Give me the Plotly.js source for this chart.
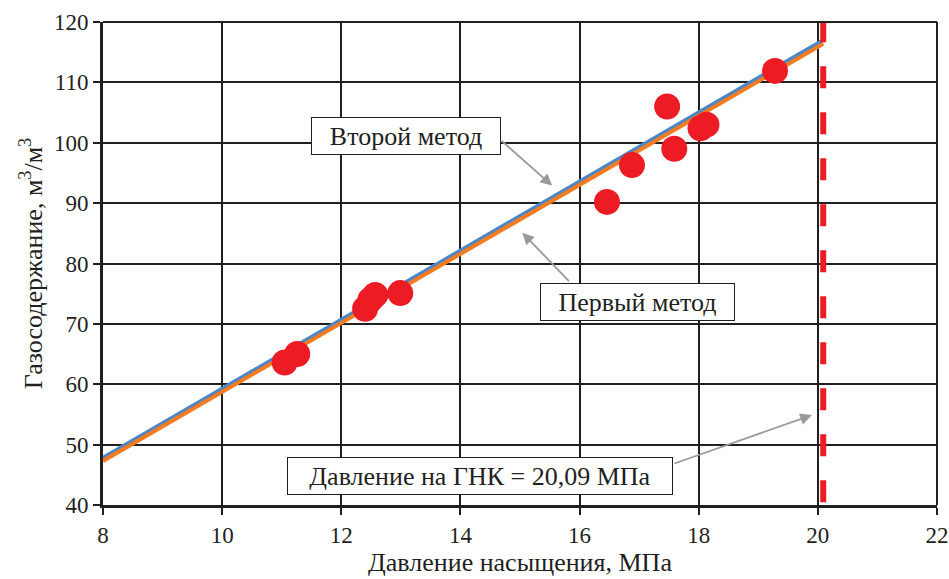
<!DOCTYPE html>
<html>
<head>
<meta charset="utf-8">
<script src="https://cdn.plot.ly/plotly-3.0.1.min.js"></script>
<style>html,body{margin:0;padding:0;background:#fff;}#chart{width:949px;height:579px;}</style>
</head>
<body>
<div id="chart"></div>
<script>
// Measured points: saturation pressure (MPa) vs gas content (m3/m3)
const pressure = [11.05, 11.26, 12.40, 12.49, 12.57, 12.99, 16.46, 16.88, 17.47, 17.59, 18.03, 18.13, 19.28];
const gasContent = [63.6, 65.0, 72.5, 74.0, 74.8, 75.1, 90.2, 96.3, 106.0, 99.0, 102.4, 103.0, 111.9];

// Trend lines of the two methods
const lineX = [8, 20.09];
const secondMethodY = [47.8, 117.0];
const firstMethodY = [47.3, 116.4];

// GOC pressure
const gocPressure = 20.09;

const xTicks = [8, 10, 12, 14, 16, 18, 20, 22];
const yTicks = [40, 50, 60, 70, 80, 90, 100, 110, 120];

const labels = {
  second: 'Второй метод',
  first: 'Первый метод',
  goc: 'Давление на ГНК = 20,09 МПа',
  xTitle: 'Давление насыщения, МПа',
  yTitle: 'Газосодержание, м<sup>3</sup>/м<sup>3</sup>'
};

const FAMILY = 'Liberation Serif';
const INK = '#231F20';

const traces = [
  {x: lineX, y: secondMethodY, mode: 'lines', line: {color: '#4A86C8', width: 4}},
  {x: lineX, y: firstMethodY, mode: 'lines', line: {color: '#F47B20', width: 4}},
  {x: pressure, y: gasContent, mode: 'markers', marker: {color: '#ED1C24', size: 26}},
  {x: [gocPressure, gocPressure], y: [120.3, 40], mode: 'lines', cliponaxis: false,
   line: {color: '#ED1C24', width: 6, dash: '22px,24px'}, hoverinfo: 'skip'}
];

// text boxes centred at (xc, yc)
const box = (text, xc, yc, w) => ({
  text: text, x: xc, y: yc, xref: 'x', yref: 'y', showarrow: false,
  xanchor: 'center', yanchor: 'middle', width: w, height: 28,
  bordercolor: INK, borderwidth: 1, borderpad: 4, bgcolor: '#fff',
  font: {family: FAMILY, size: 26, color: INK}
});
// arrows only (no text): head at (x,y), tail offset (ax, ay) in px
const arrow = (x, y, ax, ay) => ({
  text: '', x: x, y: y, xref: 'x', yref: 'y', ax: ax, ay: ay,
  showarrow: true, arrowhead: 2, arrowsize: 1.3, arrowwidth: 1.8, arrowcolor: '#9A9A9A'
});

const layout = {
  width: 949, height: 579,
  margin: {l: 103, r: 12, t: 22, b: 74},
  paper_bgcolor: '#fff', plot_bgcolor: '#fff',
  showlegend: false,
  font: {family: FAMILY, color: INK, size: 23},
  xaxis: {
    range: [8, 22], tickvals: xTicks, ticktext: xTicks.map(String),
    showgrid: true, gridcolor: INK, gridwidth: 2,
    showline: true, linecolor: INK, linewidth: 3, mirror: false,
    ticks: 'outside', ticklen: 7, tickwidth: 2, tickcolor: INK,
    zeroline: false, tickfont: {family: FAMILY, size: 23, color: INK},
    title: {text: labels.xTitle, font: {family: FAMILY, size: 26, color: INK}, standoff: 4}
  },
  yaxis: {
    range: [40, 120], tickvals: yTicks, ticktext: yTicks.map(String),
    showgrid: true, gridcolor: INK, gridwidth: 2,
    showline: true, linecolor: INK, linewidth: 3, mirror: false,
    ticks: 'outside', ticklen: 7, tickwidth: 2, tickcolor: INK,
    zeroline: false, tickfont: {family: FAMILY, size: 23, color: INK},
    title: {text: labels.yTitle, font: {family: FAMILY, size: 26, color: INK}, standoff: 4}
  },
  shapes: [
    {type: 'line', xref: 'paper', yref: 'paper', x0: 1, x1: 1, y0: 0, y1: 1, line: {color: INK, width: 2}},
    {type: 'line', xref: 'paper', yref: 'paper', x0: 0, x1: 1, y0: 1, y1: 1, line: {color: INK, width: 2}}
  ],
  annotations: [
    arrow(15.54, 92.9, -52, -46),
    arrow(15.04, 85.1, 48, 50),
    arrow(19.90, 54.9, -139, 49),
    box(labels.second, 13.08, 101.2, 180),
    box(labels.first, 16.98, 73.7, 185),
    box(labels.goc, 14.33, 44.8, 376)
  ]
};

Plotly.newPlot('chart', traces, layout, {staticPlot: true, displayModeBar: false});
</script>
</body>
</html>
